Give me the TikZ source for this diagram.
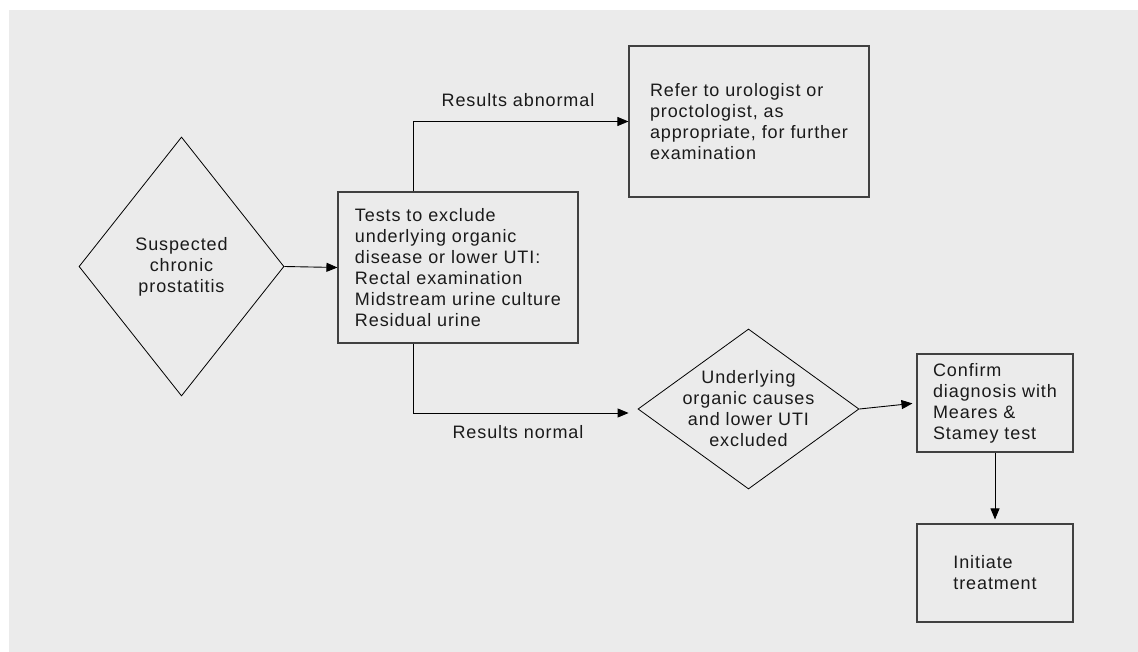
\documentclass[tikz,border=0pt]{standalone}
\usepackage{fontspec}
\setmainfont[LetterSpace=5]{Liberation Sans}
\usetikzlibrary{shapes.geometric,arrows.meta}
\definecolor{bg}{HTML}{EBEBEB}
\definecolor{boxline}{HTML}{404040}
\definecolor{txt}{HTML}{1A1A1A}
\begin{document}
\begin{tikzpicture}[x=1bp,y=-1bp,
  every node/.style={font=\fontsize{18bp}{21bp}\selectfont, text=txt},
  boxnode/.style={draw=boxline, line width=1.1bp, rectangle, inner sep=0pt, align=left},
  dia/.style={draw=black, line width=0.8bp, diamond, inner sep=-30bp, align=center},
  arr/.style={draw=black, line width=0.9bp, -{Triangle[length=11bp,width=9bp]}},
  lbl/.style={inner sep=0pt, align=center}]
\useasboundingbox (0,0) rectangle (1138,652);
\fill[bg] (9,10) rectangle (1138,652);

\node[dia, minimum width=205bp, minimum height=259bp] (d1) at (181.5,266.5) {Suspected\\chronic\\prostatitis};
\node[boxnode, minimum width=240bp, minimum height=151bp] (tests) at (458,267.5) {Tests to exclude\\underlying organic\\disease or lower UTI:\\Rectal examination\\Midstream urine culture\\Residual urine};
\node[boxnode, minimum width=240bp, minimum height=151bp] (refer) at (749,121.5) {Refer to urologist or\\proctologist, as\\appropriate, for further\\examination};
\node[dia, minimum width=221bp, minimum height=160bp] (d2) at (748.5,409) {Underlying\\organic causes\\and lower UTI\\excluded};
\node[boxnode, minimum width=156bp, minimum height=98bp] (confirm) at (995,403) {Confirm\\diagnosis with\\Meares \&\\Stamey test};
\node[boxnode, minimum width=156bp, minimum height=98bp] (treat) at (995,573) {Initiate\\treatment};

\node[lbl] (labab) at (518,100) {Results abnormal};
\node[lbl] (labnorm) at (518,432) {Results normal};

\draw[arr] (d1.east) -- (tests.west);
\draw[arr] ([xshift=-45bp]tests.north) |- (refer.west);
\draw[arr, shorten >=9bp] ([xshift=-45bp]tests.south) |- ([yshift=-4bp]d2.west);
\draw[arr, shorten >=4bp] (d2.east) -- (confirm.west);
\draw[arr, shorten >=4bp] (confirm.south) -- (treat.north);
\end{tikzpicture}
\end{document}
